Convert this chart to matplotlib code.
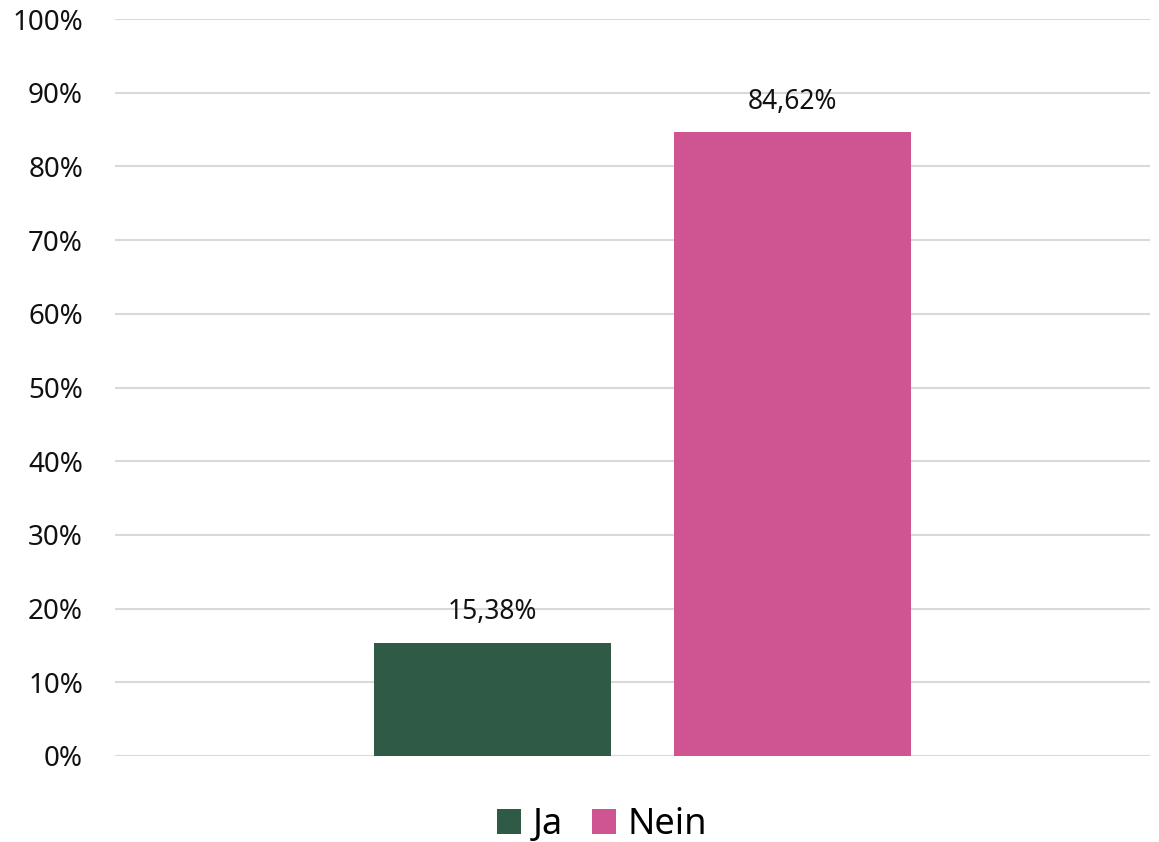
import numpy as np
import matplotlib.pyplot as plt
from matplotlib.ticker import PercentFormatter

plt.rcParams['font.family'] = ['Noto Sans', 'DejaVu Sans']

categories = ['Ja', 'Nein']
values = [15.38, 84.62]
colors = ['#2f5a45', '#ce5492']

fig = plt.figure(figsize=(11.59, 8.42), dpi=100)
ax = fig.add_axes([115 / 1159, 1 - 756 / 842, (1150 - 115) / 1159, (756 - 19) / 842])

x = np.arange(len(categories))
bars = ax.bar(x, values, width=0.79, color=colors, label=categories, zorder=3)

for b, v in zip(bars, values):
    ax.annotate(f'{v:.2f}%'.replace('.', ','), (b.get_x() + b.get_width() / 2, v),
                xytext=(0, 12), textcoords='offset points', ha='center', va='bottom',
                fontsize=19, color='#111111')

ax.set_ylim(0, 100)
ax.set_xlim(-1.258, 2.192)
ax.set_yticks(range(0, 101, 10))
ax.yaxis.set_major_formatter(PercentFormatter(decimals=0))
ax.set_xticks([])
ax.tick_params(axis='y', length=0, pad=23, labelsize=20, labelcolor='#111111')
ax.grid(axis='y', color='#d9d9d9', linewidth=1.5, zorder=0)
for s in ax.spines.values():
    s.set_visible(False)

fig.legend(handles=list(bars), labels=categories, loc='center', bbox_to_anchor=(602 / 1159, 1 - 825 / 842),
           ncol=2, frameon=False, fontsize=26, handlelength=0.67, handleheight=0.67,
           handletextpad=0.33, columnspacing=0.8)

fig.savefig('out.png', dpi=100)
